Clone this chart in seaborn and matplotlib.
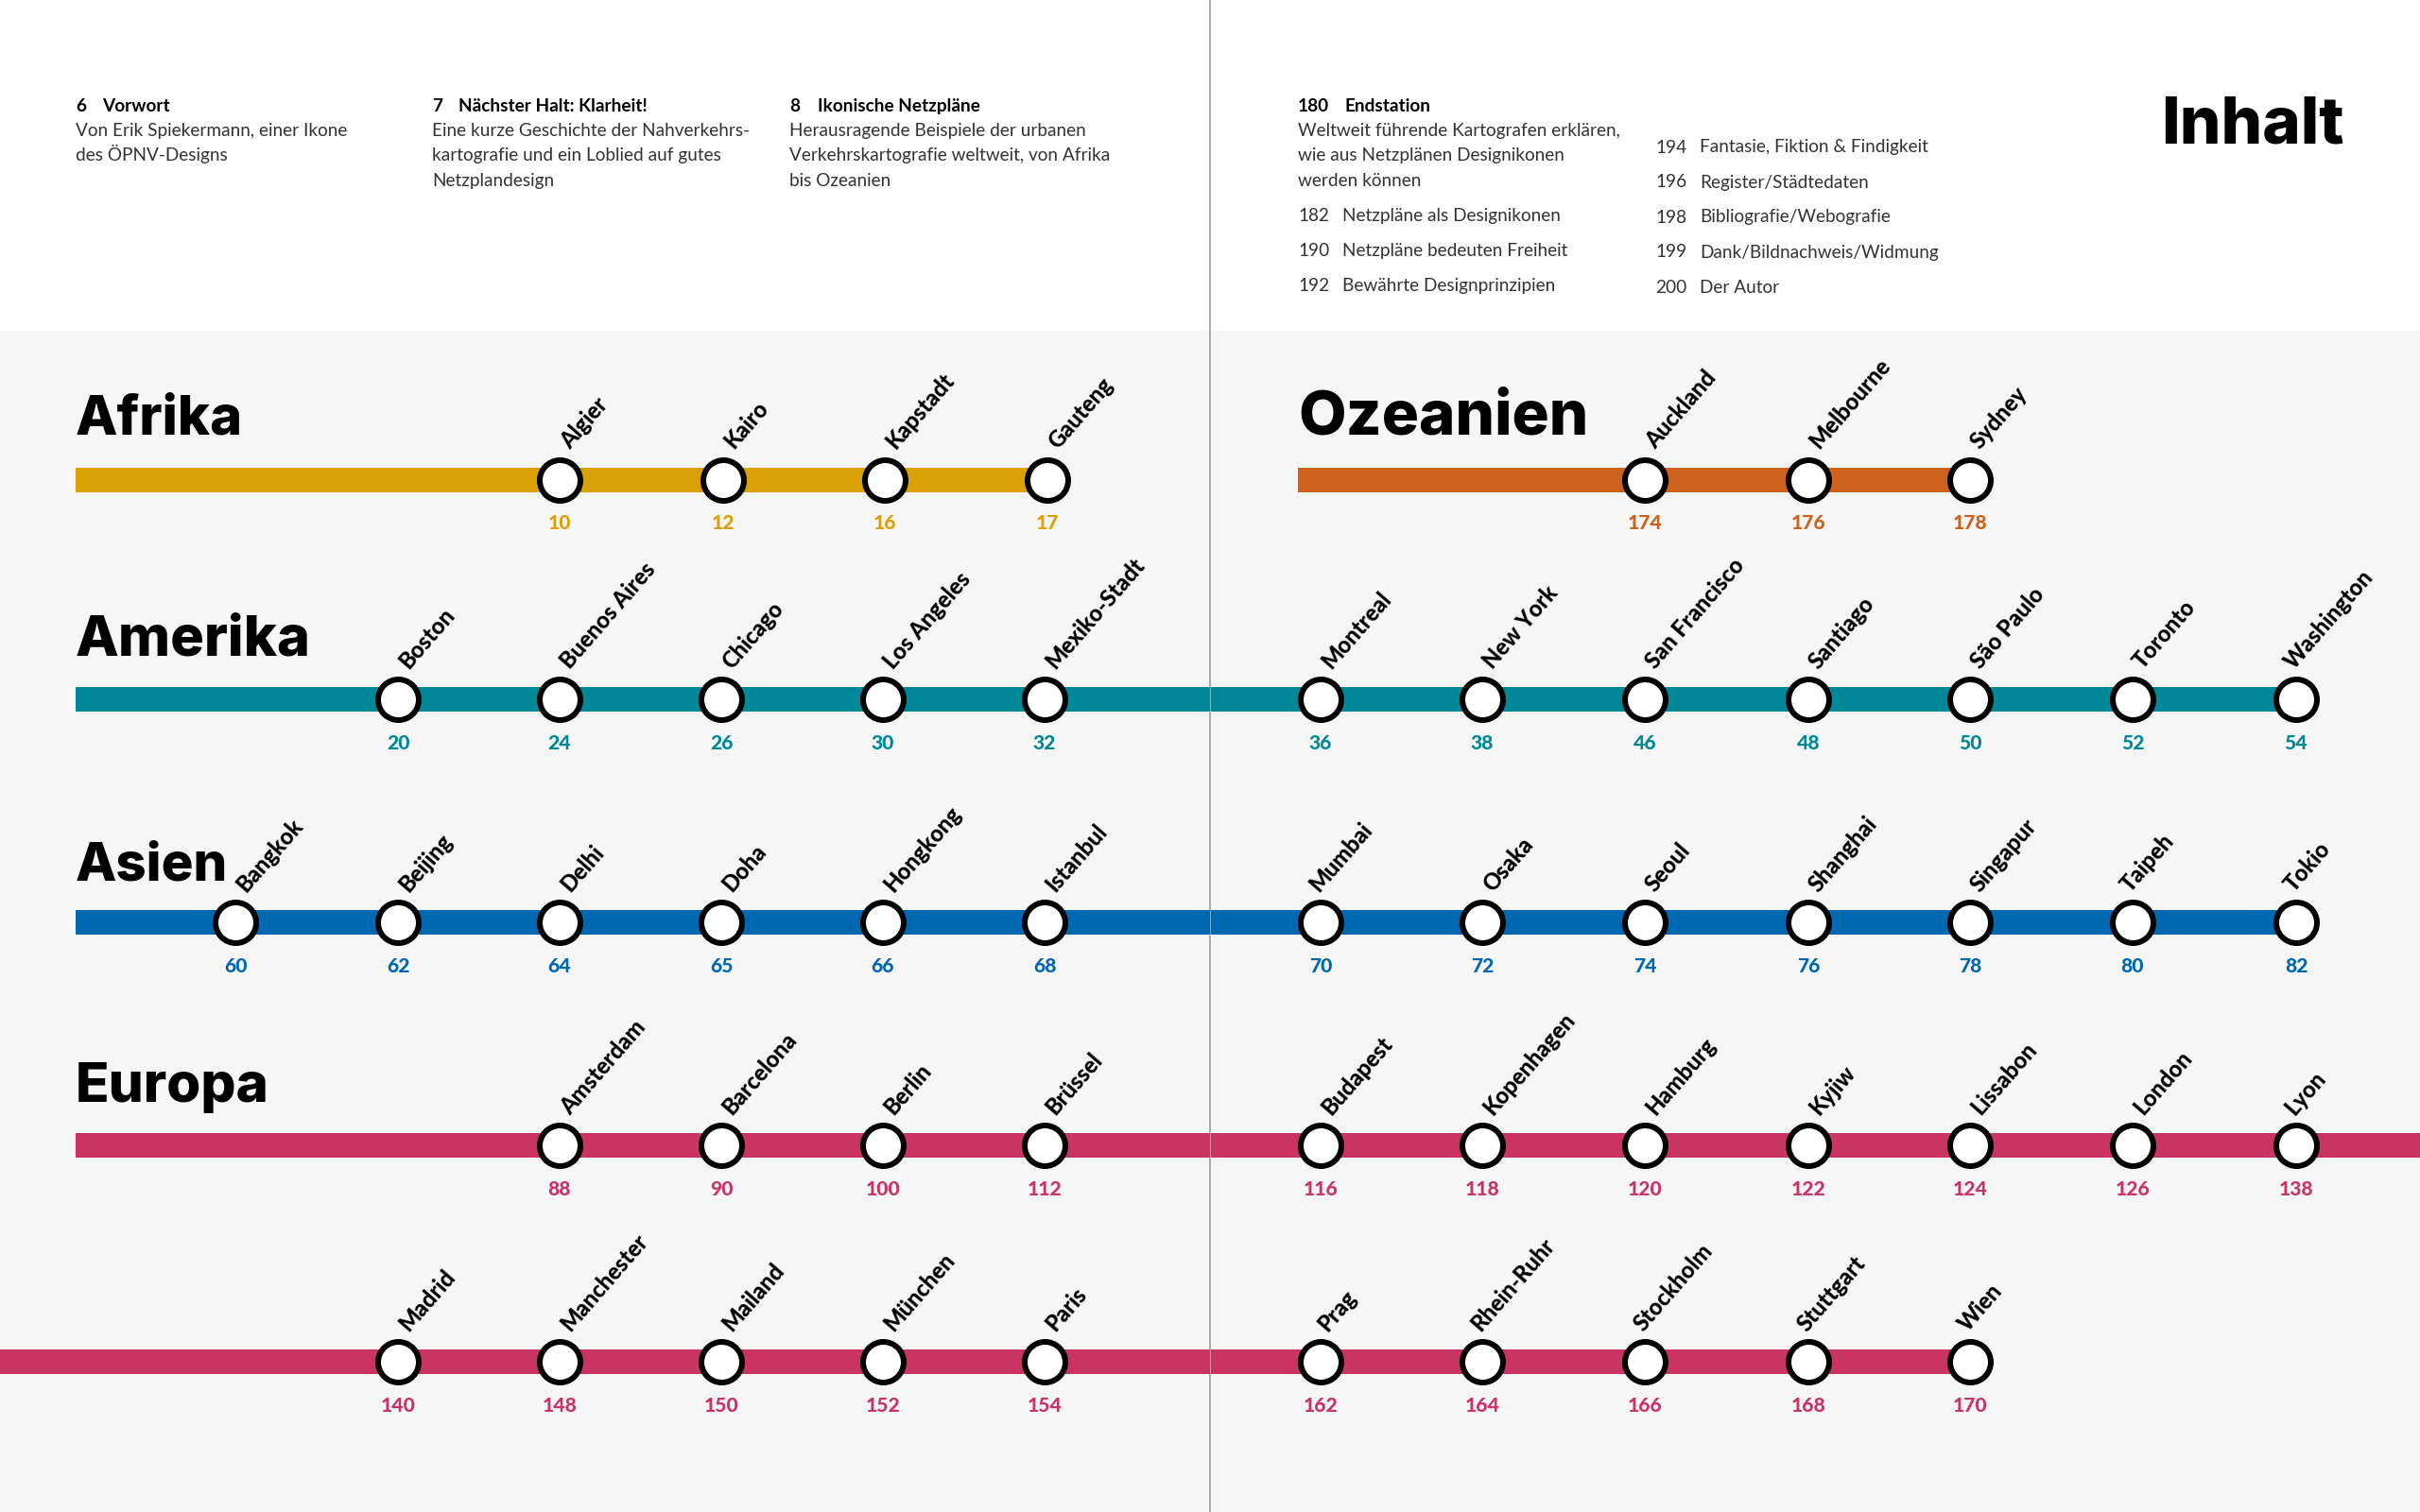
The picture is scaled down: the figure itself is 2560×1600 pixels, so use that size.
import pandas as pd
import seaborn as sns
import matplotlib.pyplot as plt

# stationen und seitenzahlen pro linie
afrika_staedte = ['Algier', 'Kairo', 'Kapstadt', 'Gauteng']
afrika_seiten = [10, 12, 16, 17]
ozeanien_staedte = ['Auckland', 'Melbourne', 'Sydney']
ozeanien_seiten = [174, 176, 178]
amerika_links = ['Boston', 'Buenos Aires', 'Chicago', 'Los Angeles', 'Mexiko-Stadt']
amerika_links_seiten = [20, 24, 26, 30, 32]
amerika_rechts = ['Montreal', 'New York', 'San Francisco', 'Santiago', 'São Paulo', 'Toronto', 'Washington']
amerika_rechts_seiten = [36, 38, 46, 48, 50, 52, 54]
asien_links = ['Bangkok', 'Beijing', 'Delhi', 'Doha', 'Hongkong', 'Istanbul']
asien_links_seiten = [60, 62, 64, 65, 66, 68]
asien_rechts = ['Mumbai', 'Osaka', 'Seoul', 'Shanghai', 'Singapur', 'Taipeh', 'Tokio']
asien_rechts_seiten = [70, 72, 74, 76, 78, 80, 82]
europa1_links = ['Amsterdam', 'Barcelona', 'Berlin', 'Brüssel']
europa1_links_seiten = [88, 90, 100, 112]
europa1_rechts = ['Budapest', 'Kopenhagen', 'Hamburg', 'Kyjiw', 'Lissabon', 'London', 'Lyon']
europa1_rechts_seiten = [116, 118, 120, 122, 124, 126, 138]
europa2_links = ['Madrid', 'Manchester', 'Mailand', 'München', 'Paris']
europa2_links_seiten = [140, 148, 150, 152, 154]
europa2_rechts = ['Prag', 'Rhein-Ruhr', 'Stockholm', 'Stuttgart', 'Wien']
europa2_rechts_seiten = [162, 164, 166, 168, 170]

# texte oben
spalte1 = ['Von Erik Spiekermann, einer Ikone', 'des ÖPNV-Designs']
spalte2 = ['Eine kurze Geschichte der Nahverkehrs-', 'kartografie und ein Loblied auf gutes', 'Netzplandesign']
spalte3 = ['Herausragende Beispiele der urbanen', 'Verkehrskartografie weltweit, von Afrika', 'bis Ozeanien']
spalte4 = ['Weltweit führende Kartografen erklären,', 'wie aus Netzplänen Designikonen', 'werden können']
unter4 = [('182', 'Netzpläne als Designikonen'), ('190', 'Netzpläne bedeuten Freiheit'), ('192', 'Bewährte Designprinzipien')]
unter5 = [('194', 'Fantasie, Fiktion & Findigkeit'), ('196', 'Register/Städtedaten'), ('198', 'Bibliografie/Webografie'),
          ('199', 'Dank/Bildnachweis/Widmung'), ('200', 'Der Autor')]

# layout, alles in pixel vom bild
FONT = 'Lato'
TITEL_FONT = 'Inter'
TEXT_GRAU = '#333333'
LINKS_X = [249, 421, 592, 763, 934, 1105]
RECHTS_X = [1397, 1568, 1740, 1913, 2084, 2256, 2429]
BAND = 26 * 0.45
RING = 6 * 0.45
KREIS = (43 * 0.45) ** 2
# diese namen stehen im original weiter links
VERSATZ = {'Mumbai': -13, 'Taipeh': -13, 'Tokio': -13, 'Lyon': -13, 'Washington': -13, 'Rhein-Ruhr': -13,
           'Stockholm': -12, 'Stuttgart': -12, 'Wien': -13, 'Prag': -4}

sns.set_theme(style='white')
plt.rcParams['font.family'] = [FONT, 'DejaVu Sans']

fig = plt.figure(figsize=(16, 10), dpi=160)
ax = fig.add_axes([0, 0, 1, 1])
ax.set_xlim(0, 2560)
ax.set_ylim(1600, 0)
ax.axis('off')

ax.axhspan(350, 1600, color='#f6f6f6', lw=0, zorder=0)
ax.axvline(1280, color='#adadad', lw=0.9, zorder=1)


def zeichne_linie(y, x_start, x_ende, farbe, xs, staedte, seiten):
    band = pd.DataFrame({'x': [x_start, x_ende], 'y': [y, y]})
    sns.lineplot(data=band, x='x', y='y', color=farbe, linewidth=BAND, solid_capstyle='butt',
                 estimator=None, sort=False, ax=ax, zorder=2)
    # heller falz wo das band ueber die seitenmitte geht
    if x_start < 1280 < x_ende:
        ax.plot([1280, 1280], [y - 13, y + 13], color='white', alpha=0.45, lw=0.45, zorder=2.5)
    stops = pd.DataFrame({'x': xs, 'y': [y] * len(xs)})
    sns.scatterplot(data=stops, x='x', y='y', s=KREIS, color='white', edgecolor='black',
                    linewidth=RING, ax=ax, zorder=3, legend=False)
    for x, stadt, seite in zip(xs, staedte, seiten):
        ax.text(x + 11 + VERSATZ.get(stadt, 0), y - 31, stadt, rotation=49, rotation_mode='anchor', ha='left',
                va='baseline', fontsize=10.7, fontweight='black', color='black', zorder=4)
        ax.text(x, y + 46.5, str(seite), ha='center', va='center', fontsize=9.5, fontweight='black',
                color=farbe, zorder=4)


zeichne_linie(507.5, 80, 1107, '#dba006', [592, 765, 936, 1108], afrika_staedte, afrika_seiten)
zeichne_linie(507.5, 1373, 2084, '#cc621b', RECHTS_X[2:5], ozeanien_staedte, ozeanien_seiten)
zeichne_linie(740, 80, 2429, '#008899', LINKS_X[1:] + RECHTS_X, amerika_links + amerika_rechts,
              amerika_links_seiten + amerika_rechts_seiten)
zeichne_linie(976, 80, 2429, '#0068b1', LINKS_X + RECHTS_X, asien_links + asien_rechts,
              asien_links_seiten + asien_rechts_seiten)
zeichne_linie(1212, 80, 2560, '#c93463', LINKS_X[2:] + RECHTS_X, europa1_links + europa1_rechts,
              europa1_links_seiten + europa1_rechts_seiten)
zeichne_linie(1441, 0, 2084, '#c93463', LINKS_X[1:] + RECHTS_X[:5], europa2_links + europa2_rechts,
              europa2_links_seiten + europa2_rechts_seiten)

# ueberschriften der linien, groesse pro wort angepasst an die breite im original
for name, x, y, groesse in [('Afrika', 80, 459, 26), ('Ozeanien', 1373, 459, 29.5), ('Amerika', 80, 694, 26.8),
                            ('Asien', 80, 931, 25.4), ('Europa', 80, 1166, 26.3)]:
    ax.text(x, y, name, fontsize=groesse, fontweight=800, family=TITEL_FONT, color='black', va='baseline', zorder=4)
ax.text(2480, 151, 'Inhalt', fontsize=31, fontweight=800, family=TITEL_FONT, color='black', ha='right',
        va='baseline')


def block(x, x_titel, nummer, titel, zeilen):
    ax.text(x, 118, nummer, fontsize=8.55, fontweight='bold', color='black', va='baseline')
    ax.text(x_titel, 118, titel, fontsize=8.55, fontweight='bold', color='black', va='baseline')
    for i, zeile in enumerate(zeilen):
        ax.text(x, 144 + i * 26.3, zeile, fontsize=8.55, color=TEXT_GRAU, va='baseline')


block(80, 108, '6', 'Vorwort', spalte1)
block(457, 485, '7', 'Nächster Halt: Klarheit!', spalte2)
block(835, 865, '8', 'Ikonische Netzpläne', spalte3)
block(1373, 1422, '180', 'Endstation', spalte4)

for i, (nr, text) in enumerate(unter4):
    ax.text(1373, 234 + i * 37, nr, fontsize=8.55, color=TEXT_GRAU, va='baseline')
    ax.text(1420, 234 + i * 37, text, fontsize=8.55, color=TEXT_GRAU, va='baseline')
for i, (nr, text) in enumerate(unter5):
    ax.text(1751, 161.5 + i * 37, nr, fontsize=8.55, color=TEXT_GRAU, va='baseline')
    ax.text(1798, 161.5 + i * 37, text, fontsize=8.55, color=TEXT_GRAU, va='baseline')

fig.savefig('out.png', dpi=160)
